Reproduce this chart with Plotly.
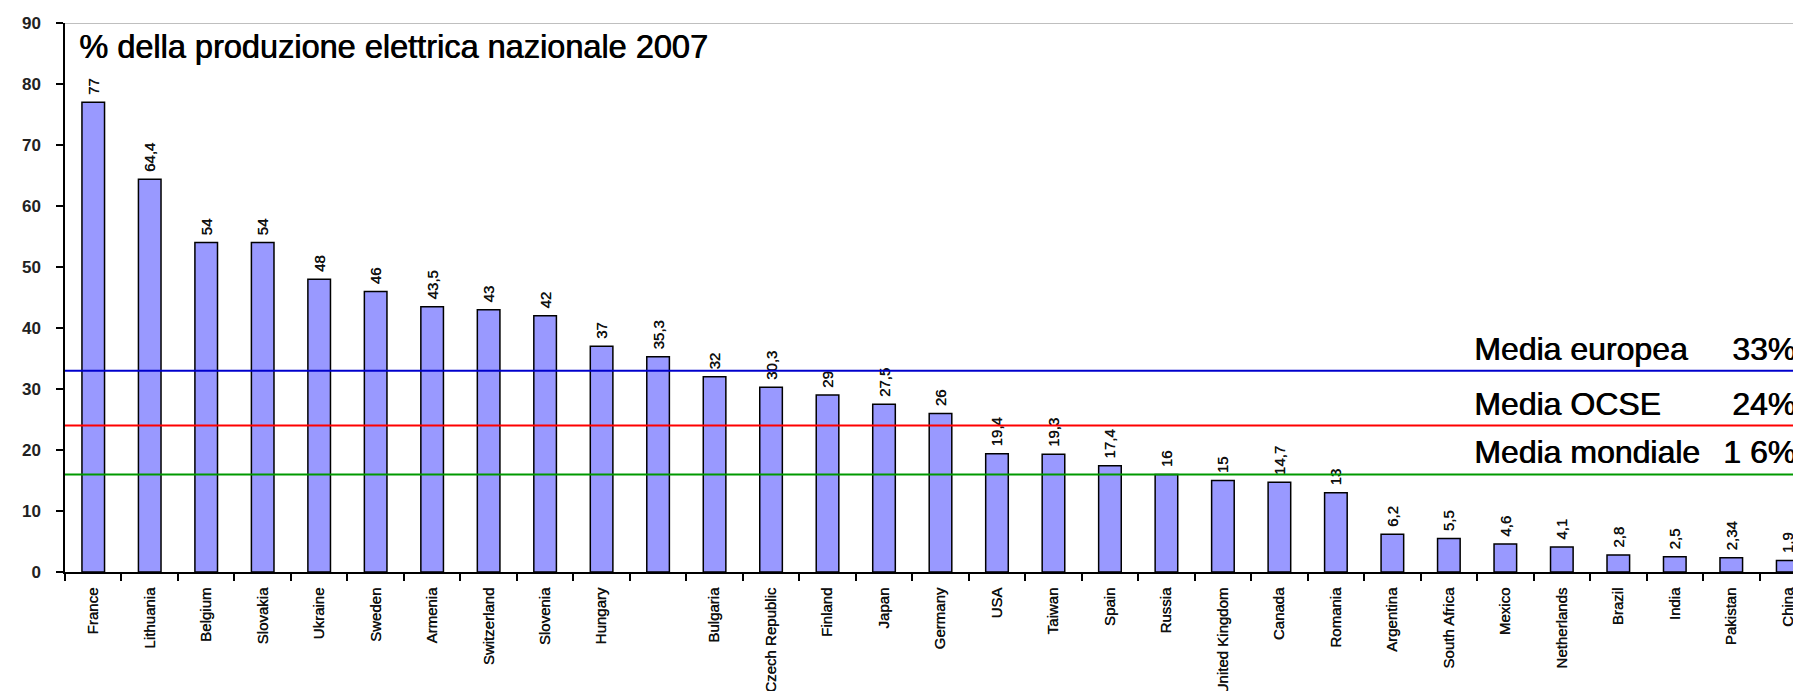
import plotly.graph_objects as go

# ---- data ----
countries = ["France", "Lithuania", "Belgium", "Slovakia", "Ukraine", "Sweden", "Armenia",
             "Switzerland", "Slovenia", "Hungary", " ", "Bulgaria", "Czech Republic", "Finland",
             "Japan", "Germany", "USA", "Taiwan", "Spain", "Russia", "United Kingdom", "Canada",
             "Romania", "Argentina", "South Africa", "Mexico", "Netherlands", "Brazil", "India",
             "Pakistan", "China"]
values = [77, 64.4, 54, 54, 48, 46, 43.5, 43, 42, 37, 35.3, 32, 30.3, 29, 27.5, 26, 19.4, 19.3,
          17.4, 16, 15, 14.7, 13, 6.2, 5.5, 4.6, 4.1, 2.8, 2.5, 2.34, 1.9]
value_labels = [" " + f"{v:g}".replace(".", ",") for v in values]

avg_names = ["Media europea", "Media OCSE", "Media mondiale"]
avg_values = [33, 24, 16]
avg_labels = ["33%", "24%", "1 6%"]
avg_colors = ["#0000CC", "#FF0000", "#009900"]

y_ticks = [0, 10, 20, 30, 40, 50, 60, 70, 80, 90]
title_text = "% della produzione elettrica nazionale 2007"

SANS = "Liberation Sans, Arial, sans-serif"
HEAVY = "0.7px 0px 0px #000000"
SEMI = "0.5px 0px 0px #111111"

# page body has an 8px margin: layout is expressed in figure coordinates
OFF = 8
W, H = 1801, 691
ML, MR, MT, MB = 64.5 - OFF, 0, 23.3 - OFF, H - (572.5 - OFF)
CAT_PX = 56.5
plot_w = W - ML - MR
x_end = -0.5 + plot_w / CAT_PX


def px_to_paper(px_view):
    return (px_view - OFF - ML) / plot_w


fig = go.Figure()
fig.add_trace(go.Bar(
    x=countries, y=values,
    marker=dict(color="#9999FF", line=dict(color="#000000", width=1.5)),
    width=0.4,
    text=value_labels, textposition="outside", textangle=-90,
    textfont=dict(family=SANS, size=15, color="#111111", shadow=SEMI),
    constraintext="none", cliponaxis=False,
    hoverinfo="x+y",
))

shapes = []
# top border at 90
shapes.append(dict(type="line", xref="paper", yref="y", x0=0, x1=1, y0=y_ticks[-1], y1=y_ticks[-1],
                   line=dict(color="#AAAAAA", width=1.5)))
for v, c in zip(avg_values, avg_colors):
    shapes.append(dict(type="line", xref="paper", yref="y", x0=0, x1=1, y0=v, y1=v,
                       line=dict(color=c, width=2)))

annotations = [dict(text=title_text, xref="paper", yref="paper", x=px_to_paper(77), y=1,
                    xanchor="left", yanchor="top", yshift=-4, showarrow=False,
                    font=dict(family=SANS, size=32.5, color="#000000", shadow=HEAVY))]
for name, v, lab in zip(avg_names, avg_values, avg_labels):
    annotations.append(dict(text=name, xref="paper", yref="y", x=px_to_paper(1472), y=v,
                            xanchor="left", yanchor="bottom", yshift=2, showarrow=False,
                            font=dict(family=SANS, size=32, color="#000000", shadow=HEAVY)))
    annotations.append(dict(text=lab, xref="paper", yref="y", x=px_to_paper(1798), y=v,
                            xanchor="right", yanchor="bottom", yshift=2, showarrow=False,
                            font=dict(family=SANS, size=32, color="#000000", shadow=HEAVY)))

fig.update_layout(
    width=W, height=H,
    margin=dict(l=ML, r=MR, t=MT, b=MB, pad=0, autoexpand=False),
    plot_bgcolor="white", paper_bgcolor="white",
    showlegend=False, bargap=0.6,
    shapes=shapes, annotations=annotations,
    xaxis=dict(type="category", range=[-0.5, x_end], tickson="boundaries",
               automargin=False,
               showline=True, linecolor="#000000", linewidth=1.5,
               ticks="outside", ticklen=7, tickwidth=1.5, tickcolor="#000000",
               tickangle=-90, ticklabelstandoff=8,
               tickfont=dict(family=SANS, size=15, color="#111111", shadow=SEMI),
               showgrid=False, zeroline=False),
    yaxis=dict(range=[0, 90], tickvals=y_ticks, ticktext=[str(t) for t in y_ticks],
               automargin=False,
               showline=True, linecolor="#000000", linewidth=1.5,
               ticks="outside", ticklen=7, tickwidth=1.5, tickcolor="#000000",
               ticklabelstandoff=12,
               tickfont=dict(family=SANS, size=17, color="#222222", weight="bold"),
               showgrid=False, zeroline=False),
)

fig.write_html("out.html")
